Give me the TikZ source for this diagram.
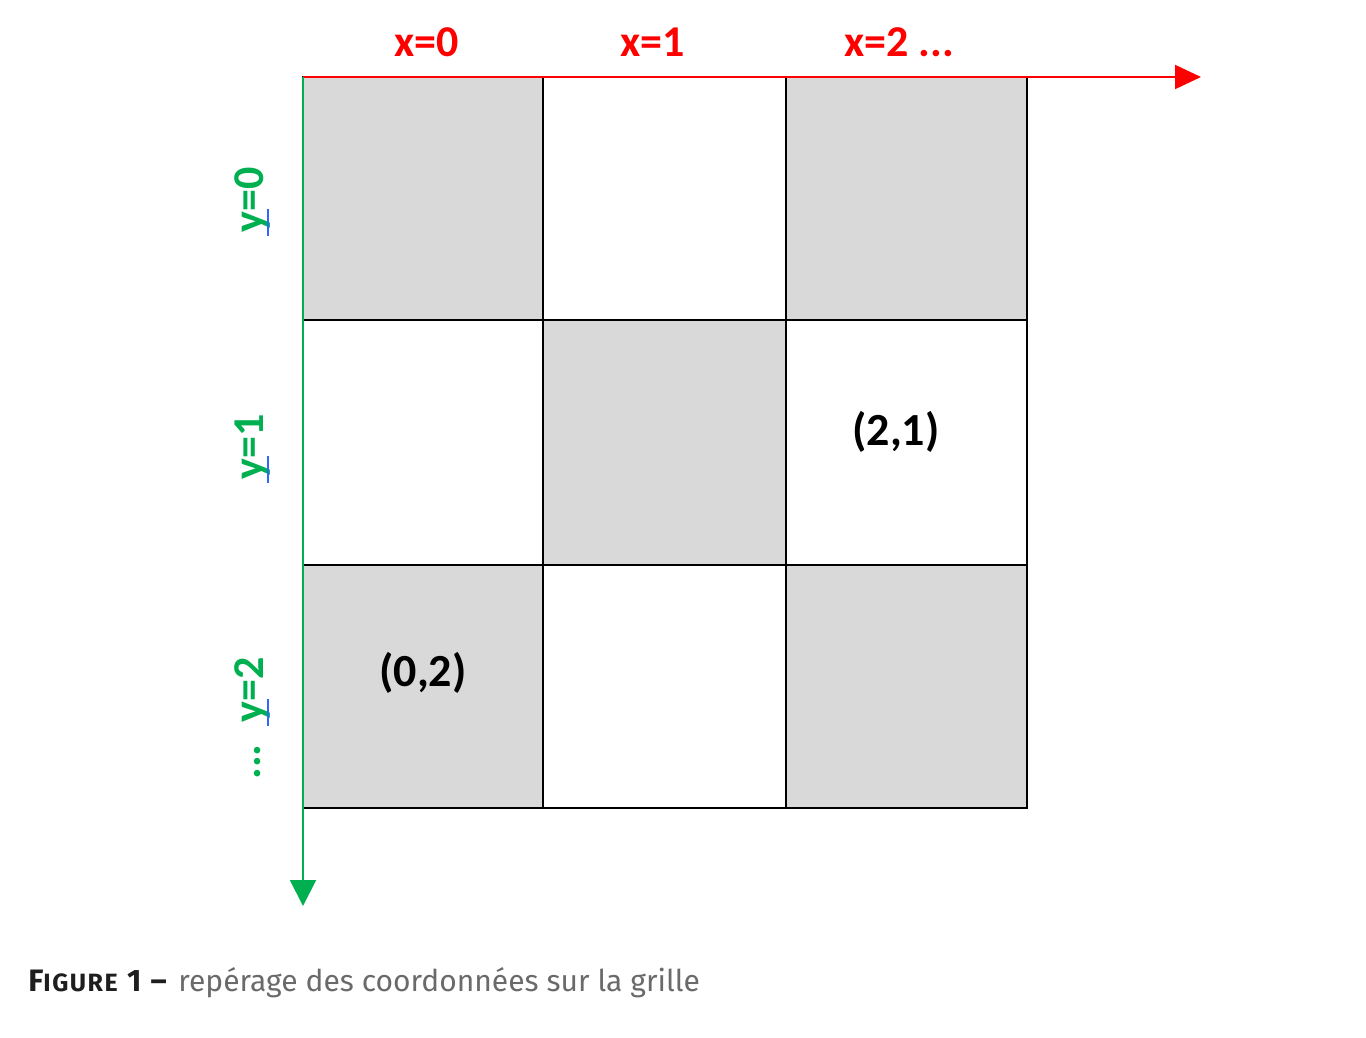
\documentclass[tikz,border=0pt]{standalone}
\usepackage{fontspec}
\setmainfont{Carlito}
\newfontfamily\capfont{Fira Sans}
\usetikzlibrary{arrows.meta}
\definecolor{cellgray}{HTML}{D9D9D9}
\definecolor{axred}{HTML}{FF0000}
\definecolor{axgreen}{HTML}{00B050}
\definecolor{curblue}{HTML}{3366FF}
\definecolor{capgray}{HTML}{6A6A6A}
\definecolor{capdark}{HTML}{1E1E1E}
\begin{document}
\begin{tikzpicture}[x=0.5pt,y=-0.5pt,
  cell/.style={draw=black,line width=1pt},
  grayc/.style={cell,fill=cellgray},
  xlab/.style={text=axred,font=\fontsize{22}{26}\selectfont\bfseries,inner sep=0pt},
  ylab/.style={text=axgreen,font=\fontsize{22}{26}\selectfont\bfseries,inner sep=0pt,rotate=90},
  coordlab/.style={font=\fontsize{23}{27}\selectfont\bfseries,inner sep=0pt},
  cursor/.style={draw=curblue,line width=1pt}]
\useasboundingbox (0,0) rectangle (1366,1038);
% cells
\path[grayc] (303,77) rectangle (543,320);
\path[cell] (543,77) rectangle (786,320);
\path[grayc] (786,77) rectangle (1027,320);
\path[cell] (303,320) rectangle (543,565);
\path[grayc] (543,320) rectangle (786,565);
\path[cell] (786,320) rectangle (1027,565);
\path[grayc] (303,565) rectangle (543,808);
\path[cell] (543,565) rectangle (786,808);
\path[grayc] (786,565) rectangle (1027,808);
% axes
\coordinate (o) at (303,77);
\coordinate (xend) at (1201,77);
\coordinate (yend) at (303,906);
\draw[axred,line width=1pt,-{Triangle[length=13pt,width=12pt]}] (o) -- (xend);
\draw[axgreen,line width=1pt,-{Triangle[length=13pt,width=13pt]}] (o) -- (yend);
% x labels
\node[xlab] (x0) at (427,42) {x=0};
\node[xlab] (x1) at (653,42) {x=1};
\node[xlab] (x2) at (899,42) {x=2 ...};
% y labels
\node[ylab] (y0) at (253,200) {y=0};
\node[ylab] (y1) at (253,447) {y=1};
\node[ylab] (y2) at (253,690) {y=2};
\node[ylab] (ydots) at (258,762) {...};
% cursor marks
\coordinate (c0a) at (268,209); \coordinate (c0b) at (268,236);
\coordinate (c1a) at (268,456); \coordinate (c1b) at (268,483);
\coordinate (c2a) at (268,699); \coordinate (c2b) at (268,726);
\draw[cursor] (c0a) -- (c0b);
\draw[cursor] (c1a) -- (c1b);
\draw[cursor] (c2a) -- (c2b);
% coordinates
\node[coordlab] (p21) at (896,432) {(2,1)};
\node[coordlab] (p02) at (423,673) {(0,2)};
% caption
\node[anchor=base west,inner sep=0pt,text=capdark,font=\capfont\bfseries\fontsize{15.5}{18}\selectfont\addfontfeature{LetterSpace=6}] (capfig) at (28,991)
  {F{\fontsize{12.5}{15}\selectfont\addfontfeature{LetterSpace=6}IGURE} 1 –};
\node[anchor=base west,inner sep=0pt,text=capgray,font=\capfont\fontsize{15}{18}\selectfont] (captxt) at (178,991)
  {repérage des coordonnées sur la grille};
\end{tikzpicture}
\end{document}
